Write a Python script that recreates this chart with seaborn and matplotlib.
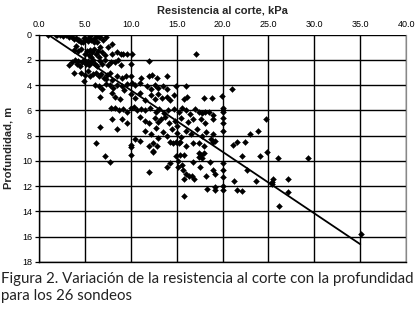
import matplotlib
matplotlib.use("Agg")
import matplotlib.pyplot as plt
import seaborn as sns
import pandas as pd

# Shear strength (kPa) and depth (m)
x_kpa = [
    1.0, 1.8, 2.0, 2.3, 2.6, 2.9, 3.3, 3.6, 3.8, 4.0, 4.2, 4.4, 4.6, 4.9, 5.1, 5.3, 5.5, 5.7, 5.9, 6.1,
    6.3, 6.5, 6.7, 7.0, 7.3, 5.6, 4.8, 6.0, 8.0, 6.2,
    3.8, 4.2, 4.6, 5.0, 5.2, 5.4, 5.6, 5.8, 6.0, 6.2, 6.4, 6.6, 6.9, 7.2, 5.7, 6.5, 8.0, 8.5, 8.9, 9.2,
    9.6, 10.1, 17.1, 4.0, 7.5,
    3.3, 3.6, 3.9, 4.1, 4.3, 4.5, 4.7, 4.9, 5.1, 5.3, 5.5, 5.7, 5.9, 6.1, 6.3, 6.6, 6.9, 7.2, 7.5, 7.8,
    8.3, 8.9, 8.6, 10.0, 12.0, 3.8,
    4.6, 5.0, 5.3, 5.6, 5.9, 6.2, 6.5, 6.8, 7.1, 7.4, 7.7, 8.5, 9.0, 9.5, 10.0, 11.1, 12.0, 12.3, 12.9, 14.0,
    4.9, 8.0, 7.3,
    6.1, 6.5, 6.9, 7.3, 7.7, 8.1, 8.5, 9.0, 9.6, 10.1, 10.5, 11.0, 11.8, 12.2, 12.6, 13.0, 13.5, 14.0, 14.9, 16.0,
    21.0, 9.3,
    6.7, 8.0, 8.3, 8.8, 10.0, 10.5, 11.0, 12.2, 12.6, 13.0, 13.4, 13.9, 14.3, 14.7, 15.8, 16.1, 18.0, 18.9, 19.9, 11.5,
    7.8, 8.3, 8.7, 9.2, 9.6, 10.0, 10.3, 10.7, 11.1, 11.6, 12.1, 12.7, 13.1, 13.6, 14.1, 14.7, 15.2, 15.6, 16.0, 16.5,
    17.0, 17.4, 17.8, 18.1, 18.5, 20.0, 20.0, 20.0,
    8.0, 9.0, 9.6, 11.0, 11.5, 12.0, 12.6, 13.0, 13.3, 13.7, 14.2, 14.8, 15.5, 16.2, 16.8, 17.6, 18.1, 19.0, 19.0, 20.0,
    20.0, 24.7, 6.7, 15.0,
    8.5, 11.5, 12.2, 12.8, 13.5, 14.0, 14.5, 15.0, 15.5, 16.0, 16.6, 17.2, 17.8, 18.2, 19.0, 20.0, 23.0, 23.9, 13.0, 10.5,
    6.2, 10.0, 10.0, 11.0, 12.0, 12.4, 12.9, 14.3, 14.6, 14.9, 15.2, 15.4, 16.0, 16.8, 17.4, 18.0, 18.7, 19.0, 19.2, 21.1,
    21.6, 22.4,
    7.2, 7.7, 10.0, 12.4, 12.4, 14.9, 15.1, 15.4, 15.8, 16.8, 17.4, 17.6, 17.4, 17.8, 18.0, 18.6, 20.0, 22.1, 24.1, 24.8,
    26.0, 29.3, 14.3,
    12.0, 14.0, 15.1, 15.6, 15.7, 16.0, 15.8, 15.8, 16.3, 16.7, 16.9, 17.5, 18.2, 18.3, 19.0, 19.2, 19.2, 19.2, 20.1, 20.1,
    20.1, 20.1, 21.2, 21.6, 22.1, 22.7, 23.6, 25.4, 25.4, 25.5, 26.2, 27.1, 27.1, 35.1,
]
depth_m = [
    0.0, 0.0, 0.05, 0.0, 0.1, 0.0, 0.15, 0.2, 0.35, 0.3, 0.45, 0.4, 0.55, 0.3, 0.35, 0.5, 0.3, 0.45, 0.4, 0.3,
    0.55, 0.2, 0.15, 0.4, 0.2, 0.1, 0.6, 0.6, 0.7, 0.0,
    1.2, 1.3, 1.1, 1.5, 1.3, 1.6, 1.2, 1.4, 1.1, 1.5, 1.3, 1.0, 1.4, 1.6, 1.8, 1.8, 1.5, 1.4, 1.5, 1.5,
    1.5, 1.5, 1.5, 0.9, 1.0,
    2.4, 2.2, 2.0, 2.3, 2.1, 2.5, 2.2, 2.0, 2.3, 2.1, 2.4, 2.2, 2.0, 2.3, 2.5, 2.1, 2.3, 2.0, 2.4, 2.2,
    2.2, 2.4, 2.0, 2.3, 2.1, 3.0,
    3.0, 3.2, 2.9, 3.3, 3.1, 3.0, 3.3, 3.1, 3.4, 3.2, 3.0, 3.3, 3.4, 3.3, 3.3, 3.4, 3.3, 3.2, 3.4, 3.3,
    3.7, 3.6, 3.5,
    4.0, 4.1, 4.3, 3.9, 4.0, 4.2, 3.95, 4.1, 3.9, 3.8, 4.0, 3.8, 4.1, 4.3, 4.0, 4.2, 4.1, 4.3, 4.1, 4.1,
    4.3, 4.4,
    4.9, 4.6, 4.9, 5.1, 4.7, 5.0, 4.6, 4.8, 5.1, 4.7, 5.0, 4.9, 5.2, 4.8, 5.1, 4.9, 5.0, 5.0, 4.85, 5.2,
    5.8, 5.8, 6.0, 5.9, 6.1, 5.8, 5.7, 6.0, 5.9, 6.0, 5.8, 6.1, 5.9, 6.2, 6.0, 5.9, 6.1, 5.8, 6.0, 6.3,
    5.9, 6.1, 6.2, 6.1, 6.1, 5.8, 6.0, 6.1,
    6.7, 6.7, 7.0, 6.5, 6.8, 7.0, 6.6, 6.9, 6.7, 6.5, 7.0, 6.8, 6.6, 6.9, 6.7, 6.7, 7.0, 6.7, 6.4, 6.6,
    7.0, 6.7, 7.3, 7.2,
    7.5, 7.6, 7.9, 7.4, 7.7, 8.0, 7.5, 7.8, 8.1, 7.6, 7.9, 7.5, 8.0, 7.7, 7.9, 7.6, 7.9, 7.6, 8.2, 8.3,
    8.55, 8.7, 8.9, 8.4, 8.8, 8.6, 8.8, 8.5, 8.6, 8.5, 8.6, 8.5, 8.8, 8.6, 8.6, 8.8, 8.3, 8.5, 8.4, 8.7,
    8.5, 8.5,
    9.6, 10.1, 9.5, 9.2, 9.3, 9.6, 10.0, 9.5, 9.5, 10.1, 9.4, 9.5, 9.7, 9.8, 9.4, 10.1, 10.2, 9.6, 9.6, 9.3,
    9.8, 9.8, 10.2,
    10.9, 10.5, 10.5, 10.3, 10.7, 11.0, 11.4, 12.8, 11.2, 11.2, 11.4, 10.5, 11.2, 12.2, 10.7, 11.0, 12.1, 12.3, 10.7, 11.3,
    12.0, 12.3, 11.6, 12.3, 12.4, 10.7, 11.6, 11.7, 11.8, 11.4, 13.6, 11.4, 12.5, 15.8,
]
# Fitted trend line end points
trend_x = [1.0, 35.0]
trend_y = [0.0, 16.6]

x_ticks = [0, 5, 10, 15, 20, 25, 30, 35, 40]
y_ticks = [0, 2, 4, 6, 8, 10, 12, 14, 16, 18]

df = pd.DataFrame({"x": x_kpa, "y": depth_m})
tr = pd.DataFrame({"x": trend_x, "y": trend_y})

sns.set_style("white")
plt.rcParams["font.family"] = ["Liberation Sans", "DejaVu Sans"]

fig = plt.figure(figsize=(4.17, 3.14), dpi=100)
ax = fig.add_axes([0.0935, 0.166, 0.974 - 0.0935, 0.8895 - 0.166])

ax.grid(True, color="black", linewidth=1.0)
ax.set_axisbelow(True)

sns.scatterplot(data=df, x="x", y="y", ax=ax, marker="D", s=9, color="black",
                edgecolor="black", linewidth=0.3, zorder=3)
sns.lineplot(data=tr, x="x", y="y", ax=ax, color="black", linewidth=1.3, zorder=4)

ax.set_xlim(0, 40)
ax.set_ylim(18, 0)
ax.set_xticks(x_ticks)
ax.set_xticklabels([f"{v:.1f}" for v in x_ticks])
ax.set_yticks(y_ticks)
ax.set_yticklabels([str(v) for v in y_ticks])
ax.xaxis.tick_top()
ax.xaxis.set_label_position("top")
ax.tick_params(axis="x", length=0, pad=4, labelsize=6.5, colors="black")
ax.tick_params(axis="y", length=3, width=0.9, direction="out", pad=2, labelsize=6.5,
               colors="black", left=True)

for s in ["left", "bottom"]:
    ax.spines[s].set_color("black")
    ax.spines[s].set_linewidth(1.0)
ax.spines["top"].set_visible(False)
ax.spines["right"].set_color("#888888")
ax.spines["right"].set_linewidth(0.9)

ax.set_xlabel("Resistencia al corte, kPa", fontsize=8, fontweight="bold", labelpad=5)
ax.set_ylabel("Profundidad, m", fontsize=8, fontweight="bold", labelpad=6)

fig.text(0.003, 0.135, "Figura 2. Variación de la resistencia al corte con la profundidad\npara los 26 sondeos",
         fontsize=10.8, family=["Lato", "DejaVu Sans"], color="#222222", va="top", ha="left",
         linespacing=1.3)

fig.savefig("out.png", dpi=100)
